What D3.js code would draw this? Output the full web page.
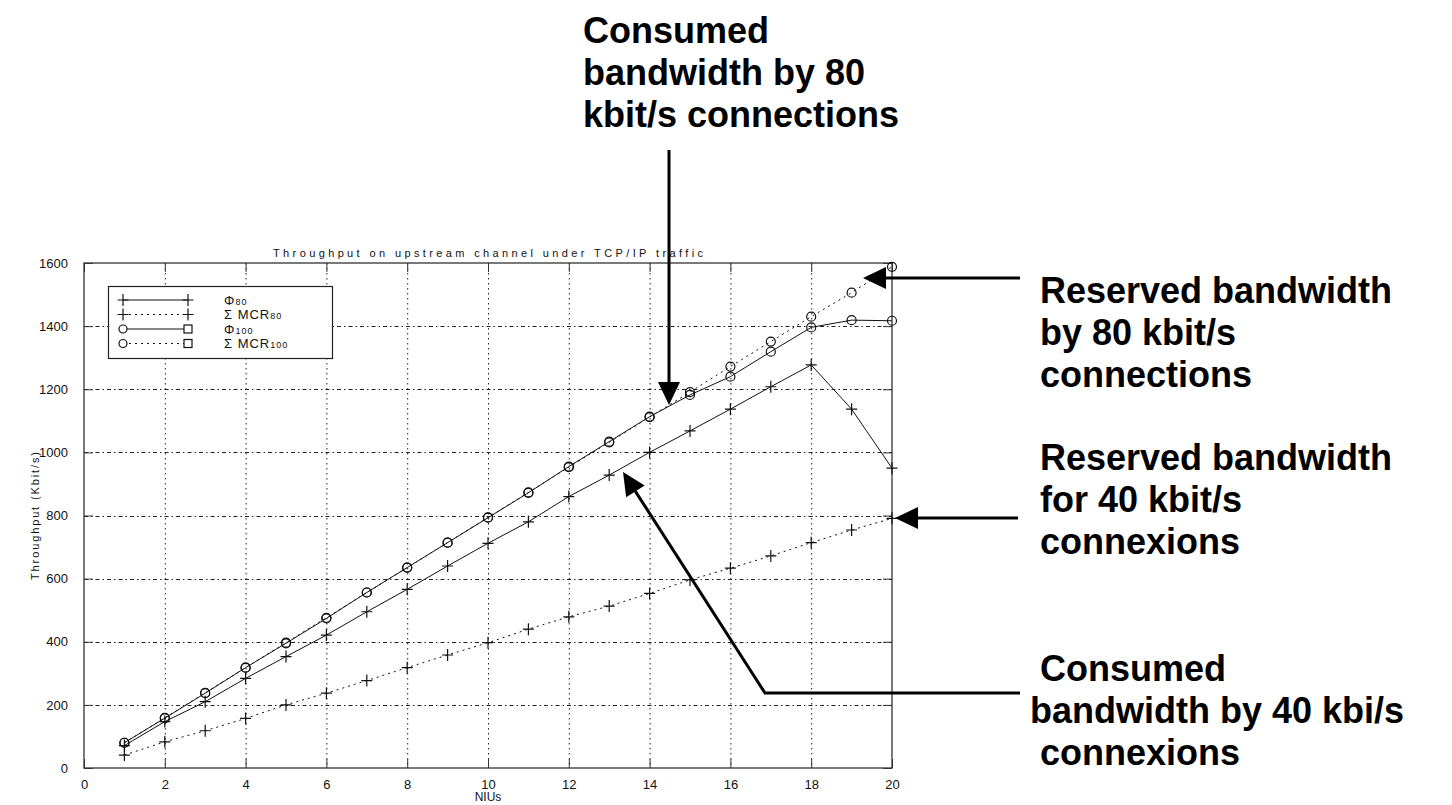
<!DOCTYPE html>
<html>
<head>
<meta charset="utf-8">
<script src="https://cdn.jsdelivr.net/npm/d3@7"></script>
<style>
  html, body { margin: 0; padding: 0; background: #fff; }
  svg { display: block; }
  .tick-label { font-family: "Liberation Sans", Arial, Helvetica, sans-serif; font-size: 13px; fill: #111; }
  .note { font-family: "Liberation Sans", Arial, Helvetica, sans-serif; font-weight: bold; font-size: 36px; fill: #000; }
</style>
</head>
<body>
<svg id="chart" width="1452" height="805"></svg>
<script>
// Number of NIUs on the upstream channel
const nius = [1, 2, 3, 4, 5, 6, 7, 8, 9, 10, 11, 12, 13, 14, 15, 16, 17, 18, 19, 20];

// Throughput (Kbit/s) per series
const phi80  = [71, 147, 210, 284, 353, 421, 495, 566, 640, 712, 780, 860, 928, 1000, 1068, 1137, 1208, 1277, 1137, 950];
const mcr80  = [41, 83, 118, 157, 200, 237, 277, 318, 358, 397, 440, 479, 513, 553, 596, 633, 672, 714, 754, 791];
const phi100 = [80, 158, 237, 318, 395, 474, 556, 635, 714, 793, 872, 955, 1034, 1113, 1182, 1240, 1319, 1396, 1419, 1417];
const mcr100 = [80, 159, 238, 318, 397, 476, 556, 635, 714, 794, 873, 953, 1032, 1112, 1191, 1272, 1351, 1430, 1506, 1588];

// Axis ticks
const xTicks = [0, 2, 4, 6, 8, 10, 12, 14, 16, 18, 20];
const yTicks = [0, 200, 400, 600, 800, 1000, 1200, 1400, 1600];

const svg = d3.select("#chart");
const plot = { left: 84, right: 892, top: 263, bottom: 768 };

const x = d3.scaleLinear().domain([0, 20]).range([plot.left, plot.right]);
const y = d3.scaleLinear().domain([0, 1600]).range([plot.bottom, plot.top]);

// Grid
const grid = svg.append("g").attr("stroke", "#222").attr("stroke-width", 1).attr("fill", "none");
grid.selectAll(".vg").data(xTicks.slice(1, -1)).join("line")
  .attr("x1", d => x(d) + 0.5).attr("x2", d => x(d) + 0.5)
  .attr("y1", plot.top).attr("y2", plot.bottom)
  .attr("stroke-dasharray", "1.5,3.5");
grid.selectAll(".hg").data(yTicks.slice(1, -1)).join("line")
  .attr("y1", d => Math.round(y(d)) + 0.5).attr("y2", d => Math.round(y(d)) + 0.5)
  .attr("x1", plot.left).attr("x2", plot.right)
  .attr("stroke-dasharray", "4,3,1.5,3");

// Axes with inward ticks on all four sides
const tickLen = 9;
const fmt = d3.format("d");
const xAxisB = d3.axisBottom(x).tickValues(xTicks).tickSize(-tickLen).tickPadding(tickLen + 3).tickFormat(fmt);
const xAxisT = d3.axisTop(x).tickValues(xTicks).tickSize(-tickLen).tickFormat("");
const yAxisL = d3.axisLeft(y).tickValues(yTicks).tickSize(-tickLen).tickPadding(tickLen + 7).tickFormat(fmt);
const yAxisR = d3.axisRight(y).tickValues(yTicks).tickSize(-tickLen).tickFormat("");

function styleAxis(g) {
  g.select(".domain").remove();
  g.selectAll(".tick line").attr("stroke", "#333");
  g.selectAll(".tick text").attr("class", "tick-label").attr("fill", "#111");
}
svg.append("g").attr("transform", `translate(0,${plot.bottom})`).call(xAxisB).call(styleAxis);
svg.append("g").attr("transform", `translate(0,${plot.top})`).call(xAxisT).call(styleAxis);
svg.append("g").attr("transform", `translate(${plot.left},0)`).call(yAxisL).call(styleAxis);
svg.append("g").attr("transform", `translate(${plot.right},0)`).call(yAxisR).call(styleAxis);
svg.selectAll(".tick text").style("font-family", '"Liberation Sans", Arial, sans-serif').style("font-size", "13px");

svg.append("rect")
  .attr("x", plot.left).attr("y", plot.top)
  .attr("width", plot.right - plot.left).attr("height", plot.bottom - plot.top)
  .attr("fill", "none").attr("stroke", "#333").attr("stroke-width", 1.3);

// Series lines and markers
const line = d3.line().x((d, i) => x(nius[i])).y(d => y(d));
const series = [
  { values: mcr80,  dash: "2,4", marker: "plus" },
  { values: phi80,  dash: null,  marker: "plus" },
  { values: mcr100, dash: "2,4", marker: "circle" },
  { values: phi100, dash: null,  marker: "circle" }
];
const marks = svg.append("g");
series.forEach(s => {
  marks.append("path").attr("d", line(s.values))
    .attr("fill", "none").attr("stroke", "#111").attr("stroke-width", 1)
    .attr("stroke-dasharray", s.dash);
  const g = marks.append("g").attr("stroke", "#111").attr("stroke-width", 1.2).attr("fill", "none");
  s.values.forEach((v, i) => {
    const cx = x(nius[i]), cy = y(v);
    if (s.marker === "plus") {
      g.append("path").attr("d", `M${cx - 5.5},${cy}H${cx + 5.5}M${cx},${cy - 6}V${cy + 6}`);
    } else {
      g.append("circle").attr("cx", cx).attr("cy", cy).attr("r", 4.5);
    }
  });
});

// Title and axis labels
svg.append("text").attr("x", 488).attr("y", 257).attr("text-anchor", "middle")
  .attr("class", "tick-label").style("font-size", "11px")
  .attr("textLength", 430).attr("lengthAdjust", "spacing")
  .text("Throughput on upstream channel under TCP/IP traffic");
svg.append("text").attr("x", 488).attr("y", 801).attr("text-anchor", "middle")
  .attr("class", "tick-label").style("font-size", "12px").text("NIUs");
svg.append("text").attr("transform", "translate(39,516) rotate(-90)").attr("text-anchor", "middle")
  .attr("class", "tick-label").style("font-size", "11px")
  .attr("textLength", 128).attr("lengthAdjust", "spacing")
  .text("Throughput (Kbit/s)");

// Legend
const lg = svg.append("g");
lg.append("rect").attr("x", 108.5).attr("y", 286.5).attr("width", 224).attr("height", 72)
  .attr("fill", "#fff").attr("stroke", "#222").attr("stroke-width", 1.2);
const legendRows = [
  { sym: "Φ", sub: "80", dash: null, left: "plus", right: "plus" },
  { sym: "Σ MCR", sub: "80", dash: "2,4", left: "plus", right: "plus" },
  { sym: "Φ", sub: "100", dash: null, left: "circle", right: "square" },
  { sym: "Σ MCR", sub: "100", dash: "2,4", left: "circle", right: "square" }
];
const rowY = [300, 314.5, 329, 343.5];
const lx0 = 123, lx1 = 188;
function drawMarker(g, kind, cx, cy) {
  if (kind === "plus") {
    g.append("path").attr("d", `M${cx - 5.5},${cy}H${cx + 5.5}M${cx},${cy - 6}V${cy + 6}`);
  } else if (kind === "circle") {
    g.append("circle").attr("cx", cx).attr("cy", cy).attr("r", 4);
  } else {
    g.append("rect").attr("x", cx - 4).attr("y", cy - 4).attr("width", 8).attr("height", 8).attr("fill", "#fff");
  }
}
legendRows.forEach((r, i) => {
  const cy = rowY[i];
  lg.append("line").attr("x1", lx0).attr("x2", lx1).attr("y1", cy).attr("y2", cy)
    .attr("stroke", "#111").attr("stroke-width", 1).attr("stroke-dasharray", r.dash);
  const mg = lg.append("g").attr("stroke", "#111").attr("stroke-width", 1.2).attr("fill", "#fff");
  drawMarker(mg, r.left, lx0, cy);
  drawMarker(mg, r.right, lx1, cy);
  const t = lg.append("text").attr("x", 224).attr("y", cy + 4.5).attr("class", "tick-label")
    .style("font-size", "13px").style("letter-spacing", "1px");
  t.append("tspan").text(r.sym);
  t.append("tspan").style("font-size", "9px").text(r.sub);
});

// Annotations
const notes = [
  { x: 583, y: 43, lines: ["Consumed", "bandwidth by 80", "kbit/s connections"], dx: [0, 0, 0] },
  { x: 1040, y: 303, lines: ["Reserved bandwidth", "by 80 kbit/s", "connections"], dx: [0, 0, 0] },
  { x: 1040, y: 470, lines: ["Reserved bandwidth", "for 40 kbit/s", "connexions"], dx: [0, 0, 0] },
  { x: 1040, y: 681, lines: ["Consumed", "bandwidth by 40 kbi/s", "connexions"], dx: [0, -10, 0] }
];
notes.forEach(n => {
  const t = svg.append("text").attr("class", "note").attr("x", n.x).attr("y", n.y);
  n.lines.forEach((l, i) => t.append("tspan").attr("x", n.x + n.dx[i]).attr("dy", i === 0 ? 0 : 42).text(l));
});

// Arrows: polyline ending in a filled head at the last point
function arrow(points) {
  const n = points.length;
  const [tx, ty] = points[n - 1], [px, py] = points[n - 2];
  const ang = Math.atan2(ty - py, tx - px);
  const len = 23, half = 11;
  const bx = tx - len * Math.cos(ang), by = ty - len * Math.sin(ang);
  const shaft = points.slice(0, -1).concat([[bx, by]]);
  svg.append("path").attr("d", d3.line()(shaft)).attr("fill", "none").attr("stroke", "#000").attr("stroke-width", 3);
  const nx = -Math.sin(ang), ny = Math.cos(ang);
  svg.append("path")
    .attr("d", `M${tx},${ty}L${bx + nx * half},${by + ny * half}L${bx - nx * half},${by - ny * half}Z`)
    .attr("fill", "#000");
}
arrow([[669, 150], [669, 405]]);
arrow([[1020, 278], [863, 278]]);
arrow([[1018, 518], [895, 518]]);
arrow([[1020, 693], [765, 693], [623, 472]]);
</script>
</body>
</html>
